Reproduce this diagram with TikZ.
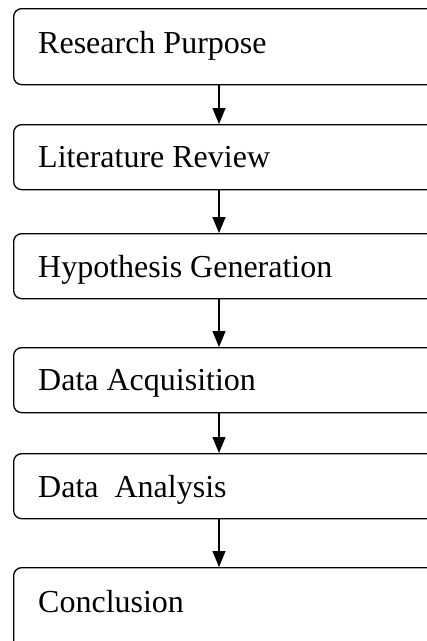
\documentclass[tikz,border=0pt]{standalone}
\usepackage{fontspec}
\setmainfont{Liberation Serif}
\usetikzlibrary{arrows.meta}
\begin{document}
\begin{tikzpicture}[x=1pt,y=-1pt,
  stepbox/.style={draw, line width=1.3pt, rounded corners=8pt, rectangle,
    anchor=north west, minimum width=432pt, inner sep=0pt},
  steptext/.style={anchor=base west, inner sep=0pt,
    font=\fontsize{32}{36}\selectfont},
  flow/.style={line width=1.3pt, -{Triangle[length=16pt,width=13pt]}}]
\useasboundingbox (0,0) rectangle (427,641);
\clip (0,0) rectangle (427,641);
% boxes: the column runs past the right and bottom edges
\node[stepbox, minimum height=76pt] (b1) at (13,8) {};
\node[stepbox, minimum height=65pt] (b2) at (13,124) {};
\node[stepbox, minimum height=65pt] (b3) at (13,233) {};
\node[stepbox, minimum height=65pt] (b4) at (13,347) {};
\node[stepbox, minimum height=65pt] (b5) at (13,453) {};
\node[stepbox, minimum height=95pt] (b6) at (13,567) {};
% labels
\node[steptext] (t1) at (38,53) {Research Purpose};
\node[steptext] (t2) at (38,167) {Literature Review};
\node[steptext] (t3) at (38,277) {Hypothesis Generation};
\node[steptext] (t4) at (38,390) {Data Acquisition};
\node[steptext] (t5) at (38,497) {Data\ \ Analysis};
\node[steptext] (t6) at (38,612) {Conclusion};
% arrows along a common vertical axis
\coordinate (axis) at (219,0);
\draw[flow] (b1.south -| axis) -- (b2.north -| axis);
\draw[flow] (b2.south -| axis) -- (b3.north -| axis);
\draw[flow] (b3.south -| axis) -- (b4.north -| axis);
\draw[flow] (b4.south -| axis) -- (b5.north -| axis);
\draw[flow] (b5.south -| axis) -- (b6.north -| axis);
\end{tikzpicture}
\end{document}
